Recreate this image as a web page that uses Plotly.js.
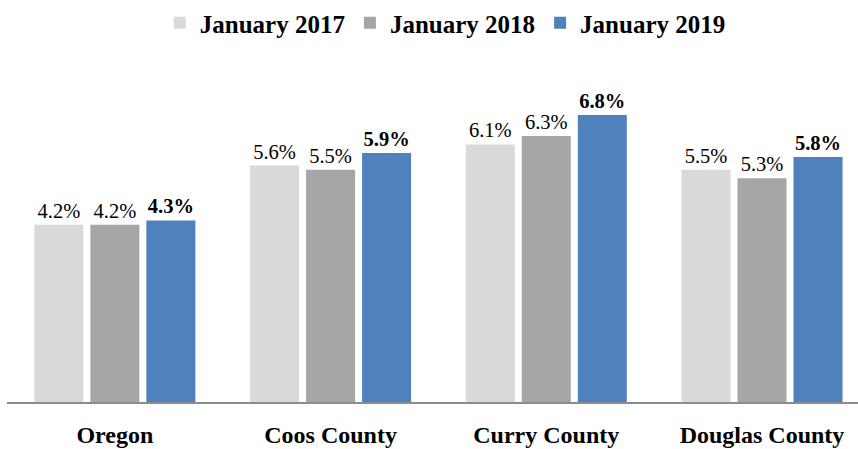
<!DOCTYPE html>
<html>
<head>
<meta charset="utf-8">
<script src="https://cdn.plot.ly/plotly-3.0.1.min.js"></script>
<style>html,body{margin:0;padding:0;background:#fff;}#chart{width:858px;height:449px;}</style>
</head>
<body>
<div id="chart"></div>
<script>
const categories = ["Oregon", "Coos County", "Curry County", "Douglas County"];
const seriesNames = ["January 2017", "January 2018", "January 2019"];
const jan2017 = [4.2, 5.6, 6.1, 5.5];
const jan2018 = [4.2, 5.5, 6.3, 5.3];
const jan2019 = [4.3, 5.9, 6.8, 5.8];
const colors = ["#d9d9d9", "#a6a6a6", "#4f81bd"];
const FONT = "'Liberation Serif', Cambria, serif";

const seriesValues = [jan2017, jan2018, jan2019];
const traces = seriesValues.map((vals, i) => ({
  type: "bar",
  name: seriesNames[i],
  x: categories,
  y: vals,
  marker: {color: colors[i]},
  texttemplate: "%{y:.1f}%",
  textposition: "outside",
  cliponaxis: false,
  textfont: {family: FONT, size: 20.5, color: "#000", weight: i === 2 ? "bold" : "normal"},
  hoverinfo: "none"
}));

const layout = {
  width: 858, height: 449,
  margin: {l: 7, r: 0, t: 60, b: 47},
  paper_bgcolor: "#fff", plot_bgcolor: "#fff",
  barmode: "group",
  bargap: 0.221,
  bargroupgap: 0.125,
  font: {family: FONT, color: "#000"},
  showlegend: true,
  legend: {
    orientation: "h", x: 0.515, xanchor: "center", y: 1.0, yanchor: "top",
    yref: "container",
    font: {family: FONT, size: 25, color: "#000", weight: "bold"},
    itemwidth: 30, traceorder: "normal"
  },
  xaxis: {
    range: [-0.5, 3.445],
    showline: true, linecolor: "#8c8c8c", linewidth: 2,
    showgrid: false, zeroline: false, ticks: "",
    tickfont: {family: FONT, size: 24, color: "#000", weight: "bold"},
    ticklabelstandoff: 10, fixedrange: true
  },
  yaxis: {
    range: [0, 8.1], visible: false, showgrid: false, zeroline: false, fixedrange: true
  }
};
Plotly.newPlot("chart", traces, layout, {displayModeBar: false, staticPlot: true});
</script>
</body>
</html>
